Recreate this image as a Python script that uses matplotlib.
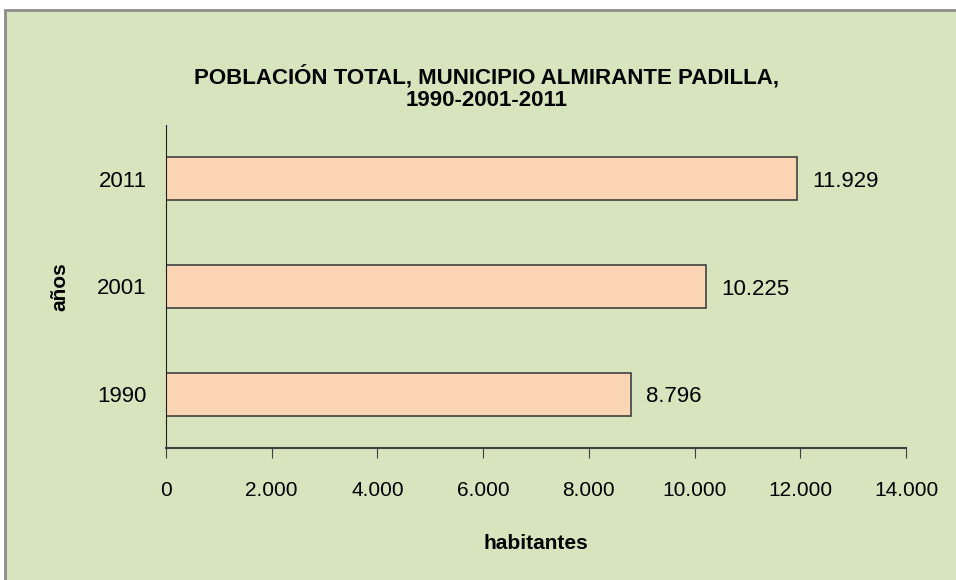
import matplotlib.pyplot as plt
from matplotlib.patches import Rectangle
from matplotlib.ticker import FuncFormatter

years = ["1990", "2001", "2011"]
habitantes = [8796, 10225, 11929]
xticks = [0, 2000, 4000, 6000, 8000, 10000, 12000, 14000]

bg = "#D7E4BD"
bar_fill = "#FCD5B5"
narrow = ["Liberation Sans Narrow", "Liberation Sans", "DejaVu Sans"]
regular = ["Liberation Sans", "DejaVu Sans"]


def miles(v, pos=None):
    return "{:,.0f}".format(v).replace(",", ".")


fig = plt.figure(figsize=(9.56, 5.80), dpi=100)
fig.patch.set_facecolor("white")
# chart area with gray frame
fig.patches.append(Rectangle((5 / 956, -0.05), 1.1, 1 - 10 / 580 + 0.05,
                             transform=fig.transFigure, facecolor=bg,
                             edgecolor="#8c8c8c", linewidth=2, zorder=-5))

ax = fig.add_axes([166 / 956, 132 / 580, 740 / 956, 323 / 580])
ax.set_facecolor("none")
ax.set_zorder(2)

ypos = range(len(years))
ax.barh(ypos, habitantes, height=0.4, color=bar_fill,
        edgecolor="#404040", linewidth=1.2)
for y, v in zip(ypos, habitantes):
    ax.annotate(miles(v), (v, y), xytext=(11, -2), textcoords="offset points",
                va="center", ha="left", fontsize=16, family=regular)

ax.set_xlim(0, 14000)
ax.set_ylim(-0.5, 2.5)
ax.set_xticks(xticks)
ax.xaxis.set_major_formatter(FuncFormatter(miles))
ax.set_yticks(list(ypos))
ax.set_yticklabels(years, fontsize=16, family=regular)
for lbl in ax.get_xticklabels():
    lbl.set_family(narrow)
    lbl.set_fontsize(15)

ax.spines["top"].set_visible(False)
ax.spines["right"].set_visible(False)
ax.spines["left"].set_color("#202020")
ax.spines["bottom"].set_color("#404040")
ax.spines["bottom"].set_linewidth(1.5)
ax.tick_params(axis="x", direction="out", length=7, pad=17, color="#404040")
ax.tick_params(axis="y", length=0, pad=14)

ax.set_xlabel("habitantes", fontsize=15, fontweight="bold", family=narrow,
              labelpad=24)
ax.set_ylabel("años", fontsize=15, fontweight="bold", family=narrow,
              labelpad=20)

fig.text(487 / 956, 1 - 88 / 580,
         "POBLACIÓN TOTAL, MUNICIPIO ALMIRANTE PADILLA,\n1990-2001-2011",
         ha="center", va="center", fontsize=16, fontweight="bold",
         family=narrow, linespacing=1.15)

fig.savefig("out.png", dpi=100, facecolor=fig.get_facecolor())
